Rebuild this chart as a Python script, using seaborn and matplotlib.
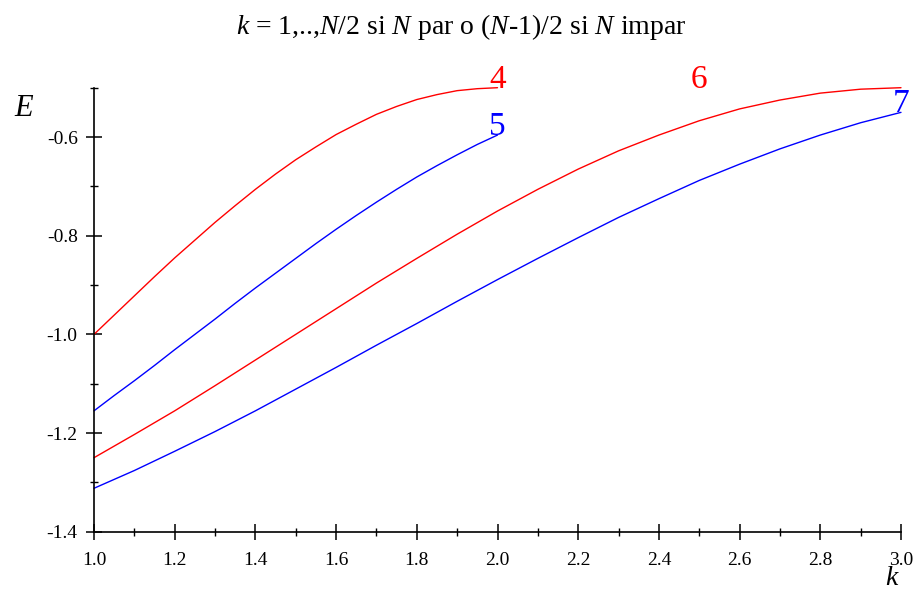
import matplotlib
matplotlib.use("Agg")
import matplotlib.pyplot as plt
from matplotlib.ticker import MultipleLocator, FormatStrFormatter
import pandas as pd
import seaborn as sns

# Energy levels E(k) for chains of N = 4, 5, 6, 7 sites
k_short = [1.00, 1.05, 1.10, 1.15, 1.20, 1.25, 1.30, 1.35, 1.40, 1.45, 1.50,
           1.55, 1.60, 1.65, 1.70, 1.75, 1.80, 1.85, 1.90, 1.95, 2.00]
k_long = [1.0, 1.1, 1.2, 1.3, 1.4, 1.5, 1.6, 1.7, 1.8, 1.9, 2.0,
          2.1, 2.2, 2.3, 2.4, 2.5, 2.6, 2.7, 2.8, 2.9, 3.0]

E_n4 = [-1.000, -0.961, -0.922, -0.883, -0.845, -0.809, -0.773,
        -0.739, -0.706, -0.675, -0.646, -0.620, -0.595, -0.574,
        -0.554, -0.538, -0.524, -0.514, -0.506, -0.502, -0.500]
E_n5 = [-1.155, -1.124, -1.094, -1.063, -1.031, -1.000, -0.969,
        -0.937, -0.906, -0.876, -0.846, -0.816, -0.787, -0.759,
        -0.732, -0.706, -0.681, -0.658, -0.636, -0.615, -0.596]
E_n6 = [-1.250, -1.203, -1.155, -1.104, -1.052, -1.000, -0.948,
        -0.896, -0.846, -0.797, -0.750, -0.706, -0.665, -0.628,
        -0.596, -0.567, -0.543, -0.525, -0.511, -0.503, -0.500]
E_n7 = [-1.312, -1.276, -1.237, -1.197, -1.155, -1.111, -1.067,
        -1.022, -0.978, -0.933, -0.889, -0.846, -0.804, -0.763,
        -0.725, -0.688, -0.655, -0.624, -0.596, -0.571, -0.550]

chain_sizes = [4, 5, 6, 7]
chain_colors = ["#ff0000", "#0000ff", "#ff0000", "#0000ff"]
label_k = [2.0, 2.0, 2.5, 3.0]

series = [(k_short, E_n4), (k_short, E_n5), (k_long, E_n6), (k_long, E_n7)]
frames = [pd.DataFrame({"k": ks, "E": es, "N": n})
          for n, (ks, es) in zip(chain_sizes, series)]
data = pd.concat(frames, ignore_index=True)

sns.set_style("white")
plt.rcParams["font.family"] = ["Liberation Serif", "DejaVu Serif"]
plt.rcParams["mathtext.fontset"] = "custom"
plt.rcParams["mathtext.rm"] = "Liberation Serif"
plt.rcParams["mathtext.it"] = "Liberation Serif:italic"
plt.rcParams["axes.unicode_minus"] = False
plt.rcParams["text.color"] = "black"

fig = plt.figure(figsize=(9.19, 5.92), dpi=100)
ax = fig.add_axes([94 / 919, 60.3 / 592, 807 / 919, 444 / 592])

sns.lineplot(data=data, x="k", y="E", hue="N",
             palette=dict(zip(chain_sizes, chain_colors)),
             estimator=None, sort=False, legend=False,
             linewidth=1.0, ax=ax)
for line in ax.lines:
    line.set_clip_on(False)

ax.set_xlim(1.0, 3.0)
ax.set_ylim(-1.4, -0.5)

for side in ("top", "right"):
    ax.spines[side].set_visible(False)
for side in ("left", "bottom"):
    ax.spines[side].set_linewidth(1.2)
    ax.spines[side].set_color("black")

ax.xaxis.set_major_locator(MultipleLocator(0.2))
ax.xaxis.set_minor_locator(MultipleLocator(0.1))
ax.yaxis.set_major_locator(MultipleLocator(0.2))
ax.yaxis.set_minor_locator(MultipleLocator(0.1))
ax.xaxis.set_major_formatter(FormatStrFormatter("%.1f"))
ax.yaxis.set_major_formatter(FormatStrFormatter("%.1f"))

ax.tick_params(which="major", direction="inout", length=11.5, width=1.1,
               color="black", labelsize=14, labelcolor="black")
ax.tick_params(which="minor", direction="inout", length=6.0, width=1.0,
               color="black")
ax.tick_params(axis="x", which="major", pad=9)
ax.tick_params(axis="y", which="major", pad=6)
ax.tick_params(which="both", bottom=True, left=True)

ax.set_xlabel("")
ax.set_ylabel("")

# axis names in italic, Maple style
fig.text(24 / 919, 1 - 108 / 592, "E", fontsize=22, fontstyle="italic",
         color="black", ha="center", va="center")
fig.text(891 / 919, 1 - 585 / 592, "k", fontsize=20, fontstyle="italic",
         color="black", ha="center", va="baseline")

# curve labels at the end of each curve
for n, color, lk, (ks, es) in zip(chain_sizes, chain_colors, label_k, series):
    ax.text(lk, es[-1], str(n), color=color, fontsize=24,
            ha="center", va="baseline")

fig.text(461 / 919, 1 - 27 / 592,
         r"$k$ = 1,..,$N$/2 si $N$ par o ($N$-1)/2 si $N$ impar",
         fontsize=20, color="black", ha="center", va="center")

fig.savefig("out.png", dpi=100)
